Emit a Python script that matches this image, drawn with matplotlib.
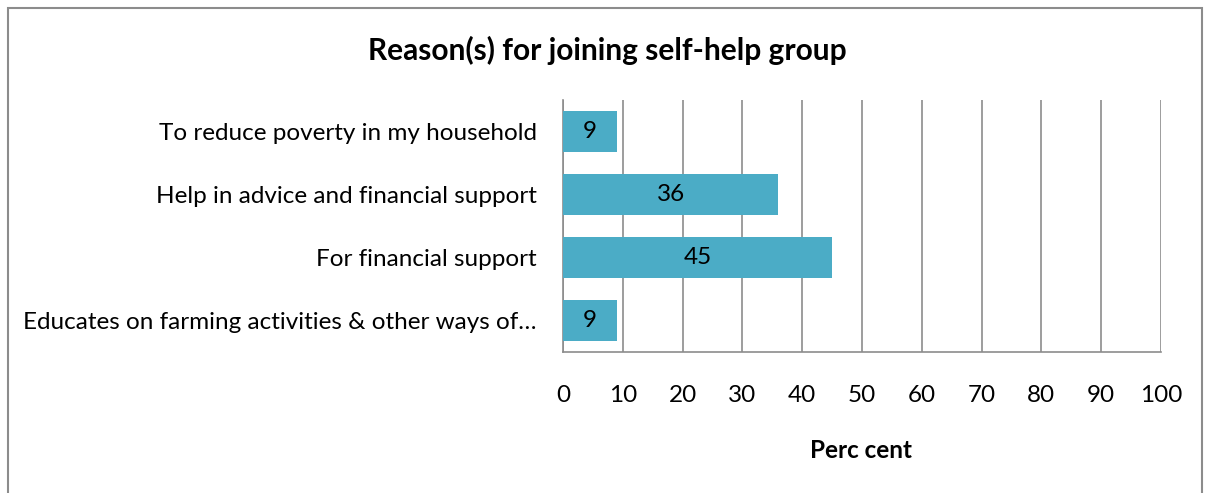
import matplotlib
matplotlib.use("Agg")
import matplotlib.pyplot as plt
from matplotlib.patches import Rectangle

categories = ["To reduce poverty in my household",
              "Help in advice and financial support",
              "For financial support",
              "Educates on farming activities & other ways of\u2026"]
values = [9, 36, 45, 9]
xticks = [0, 10, 20, 30, 40, 50, 60, 70, 80, 90, 100]

plt.rcParams['font.family'] = ['Lato', 'DejaVu Sans']

W, H = 1205, 493
fig = plt.figure(figsize=(W/100, H/100), dpi=100)
ax = fig.add_axes([563/W, 1-352/H, (1161-563)/W, (352-100)/H])

FS = 17.5
ypos = list(range(len(categories)))
bars = ax.barh(ypos, values, height=0.65, color="#4BACC6", zorder=3)
for y, v in zip(ypos, values):
    ax.text(v/2, y, str(v), ha="center", va="center", fontsize=FS, color="black", zorder=4)

ax.set_ylim(3.5, -0.5)
ax.set_xlim(0, 100)
ax.set_xticks(xticks)
ax.set_xticklabels([str(t) for t in xticks], fontsize=FS)
ax.set_yticks(ypos)
ax.set_yticklabels(categories, fontsize=FS)
ax.tick_params(axis="both", length=0)
ax.tick_params(axis="x", pad=24)
ax.tick_params(axis="y", pad=19)
ax.xaxis.grid(True, color="#8C8C8C", linewidth=1.2, zorder=0)
for s in ["top", "right"]:
    ax.spines[s].set_visible(False)
for s in ["left", "bottom"]:
    ax.spines[s].set_color("#8C8C8C")
    ax.spines[s].set_linewidth(1.2)

fig.text(607/W, 1-50/H, "Reason(s) for joining self-help group", ha="center", va="center",
         fontsize=21.5, fontweight="bold")
fig.text(861/W, 1-450/H, "Perc cent", ha="center", va="center", fontsize=FS, fontweight="bold")

fig.patches.append(Rectangle((8/W, -0.1), (1202-8)/W, 1.1-8/H, transform=fig.transFigure,
                             fill=False, edgecolor="#8C8C8C", linewidth=1.5))

fig.savefig("out.png", dpi=100)
